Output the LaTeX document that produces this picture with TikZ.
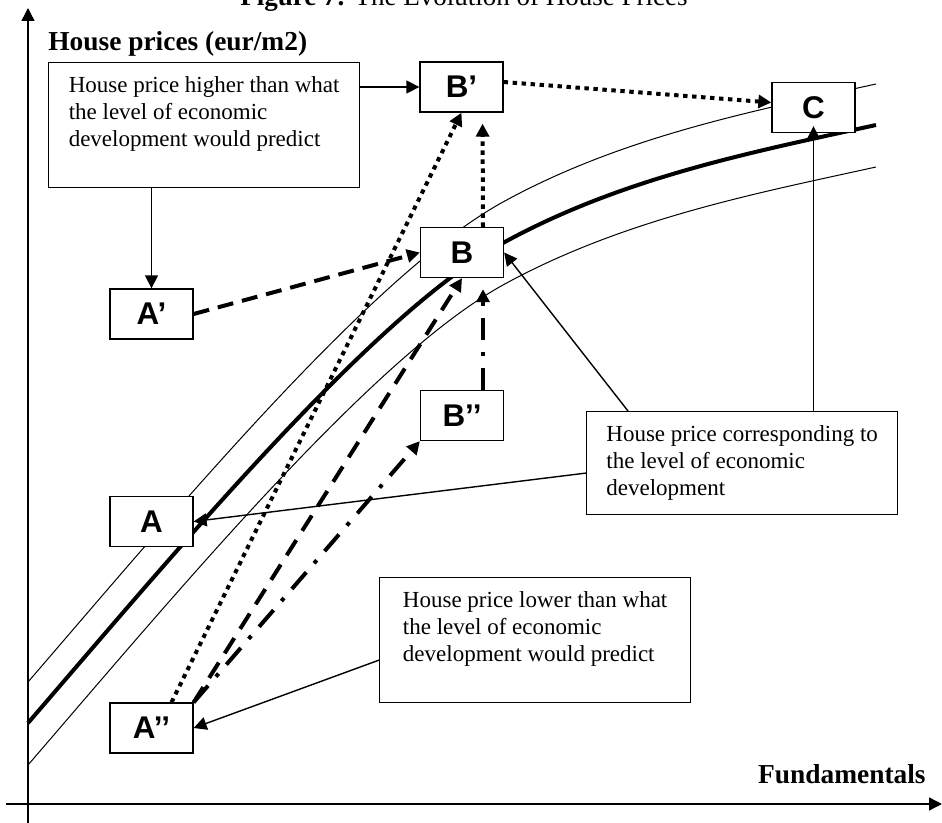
\documentclass[tikz,border=0pt]{standalone}
\usepackage{fontspec}
\setmainfont{Liberation Serif}
\setsansfont{Liberation Sans}
\usetikzlibrary{arrows.meta}

\tikzset{
  note/.style={draw, fill=white, line width=0.65pt, anchor=north west, align=left,
    minimum width=155.5pt, inner xsep=9pt, inner ysep=7pt, font=\fontsize{11.5}{13.5}\selectfont},
  stage/.style={draw, fill=white, line width=0.65pt, minimum width=41.5pt, minimum height=25pt,
    inner sep=0pt, font=\sffamily\bfseries\fontsize{15.7}{18}\selectfont},
  headtip/.style={-{Triangle[length=6.5pt,width=6.5pt]}},
  pointer/.style={headtip, line width=0.7pt},
  dotline/.style={headtip, line width=2pt, dash pattern=on 2.2pt off 2.3pt},
  dashline/.style={headtip, line width=2pt, dash pattern=on 8pt off 4.5pt},
  dashdotline/.style={headtip, line width=2pt, dash pattern=on 11pt off 6pt on 2pt off 6pt},
  axistext/.style={inner sep=0pt, font=\bfseries\fontsize{13.7}{16}\selectfont}
}

\begin{document}
\begin{tikzpicture}[x=0.5pt, y=-0.5pt]
  \useasboundingbox (0,0) rectangle (942,823);

  % axes
  \coordinate (yfoot) at (28,823);
  \coordinate (ytop) at (28,8);
  \coordinate (xfoot) at (6,804);
  \coordinate (xtop) at (942,804);
  \draw[pointer] (yfoot) -- (ytop);
  \draw[pointer] (xfoot) -- (xtop);

  \node[anchor=base west, inner sep=0pt, font=\fontsize{13.5}{16}\selectfont] (title) at (240,6)
    {\textbf{Figure 7:} The Evolution of House Prices};
  \node[axistext, anchor=base west] (ylab) at (48,51) {House prices (eur/m2)};
  \node[axistext, anchor=base east] (xlab) at (926,783) {Fundamentals};

  % equilibrium curve and band
  \foreach \s/\w in {20.5pt/0.5pt, 0pt/2pt, -21pt/0.5pt}
    \draw[line width=\w, yshift=\s] (28,723) .. controls (178,549) and (373,314.5) .. (503,243)
      .. controls (623,177) and (756,151.4) .. (876,125);

  % stages
  \node[stage] (A) at (151.5,521.5) {A};
  \node[stage] (Ap) at (151.5,314) {A’};
  \node[stage] (App) at (151.5,728) {A’’};
  \node[stage] (B) at (462,252.5) {B};
  \node[stage] (Bp) at (461.5,87) {B’};
  \node[stage] (Bpp) at (462,415.5) {B’’};
  \node[stage] (C) at (813.5,107.5) {C};

  % notes
  \node[note] (high) at (48,62) {House price higher than what\\the level of economic\\development would predict\\~};
  \node[note] (corr) at (586,411) {House price corresponding to\\the level of economic\\development};
  \node[note] (low) at (379,577) {House price lower than what\\the level of economic\\development would predict\\~};

  % paths
  \draw[pointer] (high.east |- Bp.west) -- (Bp.west);
  \draw[pointer] (high.south -| Ap.north) -- (Ap.north);
  \draw[dotline] ([yshift=2.5pt]Bp.east) -- ([yshift=2.5pt]C.west);
  \draw[dashline] (Ap.east) -- (B.west);
  \draw[dotline] ([xshift=10pt]App.north) -- (Bp.south);
  \draw[dotline, shorten >=5.5pt] ([xshift=10.5pt]B.north) -- ([xshift=10.5pt]Bp.south);
  \draw[dashline, dash pattern=on 9pt off 5.5pt] (App.north east) -- (B.south);
  \draw[dashdotline] (App.north east) -- (Bpp.south west);
  \draw[dashdotline, shorten >=5.5pt] ([xshift=10.5pt]Bpp.north) -- ([xshift=10.5pt]B.south);

  % pointers from notes
  \draw[pointer] ([xshift=21pt]corr.north west) -- (B.east);
  \draw[pointer, shorten >=-3.5pt] (corr.north -| C.south) -- (C.south);
  \draw[pointer] ([yshift=-5pt]corr.west) -- (A.east);
  \draw[pointer] ([yshift=-10pt]low.west) -- (App.east);
\end{tikzpicture}
\end{document}
